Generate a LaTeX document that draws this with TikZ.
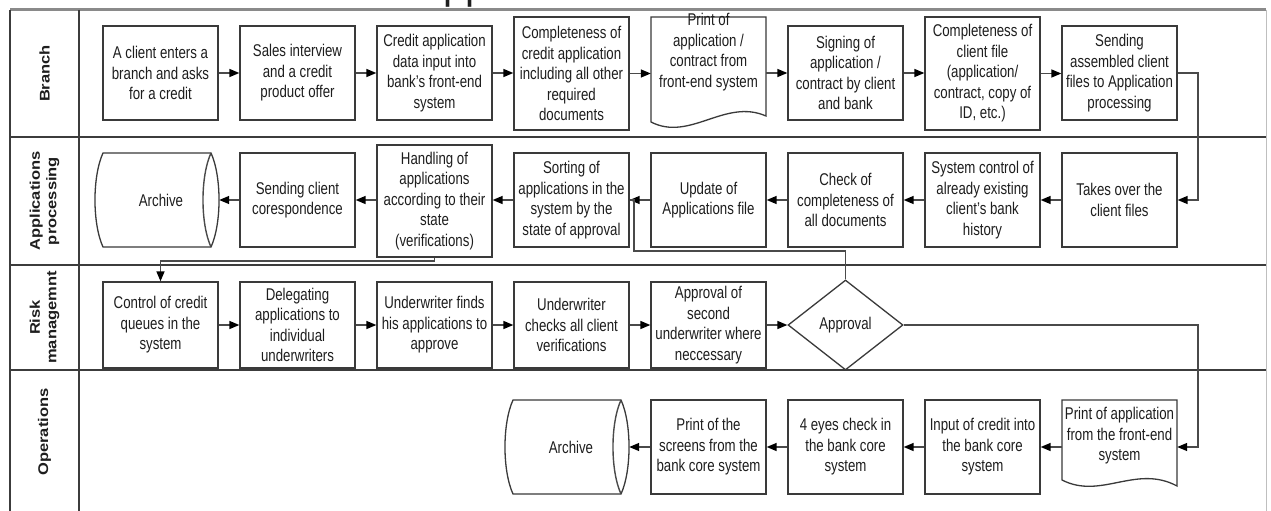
\documentclass[tikz,border=0pt]{standalone}
\usepackage{fontspec}
\setmainfont{Liberation Sans}[FakeStretch=0.78]
\newfontfamily\lanefont{Liberation Sans}
\usetikzlibrary{arrows.meta,shapes.geometric}

\definecolor{txt}{HTML}{1E1E1E}
\definecolor{boxc}{HTML}{3A3A3A}
\definecolor{linec}{HTML}{4A4A4A}
\definecolor{lanec}{HTML}{3C3C3C}
\definecolor{topc}{HTML}{8A8A8A}

\newcommand\boxfont{\fontsize{17}{20.5}\selectfont}

\tikzset{
  box/.style={draw=boxc, line width=1.3pt, fill=white, minimum width=115pt,
    minimum height=94pt, inner sep=0pt, align=center, font=\boxfont, text=txt},
  tallbox/.style={box, minimum height=113pt},
  riskbox/.style={box, minimum height=86pt},
  hold/.style={minimum width=115pt, minimum height=94pt, inner sep=0pt,
    align=center, font=\boxfont, text=txt},
  shapeline/.style={draw=boxc, line width=1.3pt, fill=white},
  arr/.style={draw=linec, line width=1.4pt,
    -{Triangle[length=10pt,width=8pt,color=black]}},
  conn/.style={draw=linec, line width=1.4pt},
  lanelabel/.style={rotate=90, yscale=0.85, align=center, text=txt,
    font=\lanefont\bfseries\fontsize{16.5}{19.5}\selectfont},
  decision/.style={draw=boxc, line width=1.3pt, fill=white, shape=diamond,
    aspect=1.28, minimum width=115pt, minimum height=90pt, inner sep=0pt,
    font=\boxfont, text=txt}
}

\begin{document}
\begin{tikzpicture}[x=1pt,y=-1pt]
\useasboundingbox (0,0) rectangle (1271,511);
\fill[white] (0,0) rectangle (1271,511);

% heading, mostly outside the page
\node (ttl) [anchor=base west, inner sep=0pt, text=txt,
  font=\fontsize{52}{52}\selectfont] at (443,-3) {pp};

% swimlane frame
\draw[topc, line width=3pt] (10,10) -- (1266,10);
\draw[lanec, line width=2.6pt] (10,137) -- (1266,137);
\draw[lanec, line width=2.6pt] (10,265) -- (1266,265);
\draw[lanec, line width=2.6pt] (10,370) -- (1266,370);
\draw[lanec, line width=1.3pt] (10,10) -- (10,511);
\draw[lanec, line width=1.3pt] (79,10) -- (79,511);
\draw[black!25, line width=1pt] (1266,10) -- (1266,511);

% lane titles
\node (lb) [lanelabel] at (44.5,73.5) {Branch};
\node (la) [lanelabel] at (44.5,201) {Applications\\processing};
\node (lr) [lanelabel] at (44.5,317.5) {Risk\\managemnt};
\node (lo) [lanelabel] at (44.5,432) {Operations};

% ---------- Branch ----------
\node (b1) [box] at (160.5,73) {A client enters a\\branch and asks\\for a credit};
\node (b2) [box] at (297.5,73) {Sales interview\\and a credit\\product offer};
\node (b3) [box] at (434.5,73) {Credit application\\data input into\\bank's front-end\\system};
\node (b4) [tallbox] at (571.5,73.5) {Completeness of\\credit application\\including all other\\required\\documents};
\draw[shapeline] (651,17) -- (766,17) -- (766,116)
  .. controls (725,98) and (690,142) .. (651,122) -- cycle;
\node (b5) [hold] at (708.5,73) {};
\node (b5t) [hold, minimum height=0pt] at (708.5,52) {Print of\\application /\\contract from\\front-end system};
\node (b6) [box] at (845.5,73) {Signing of\\application /\\contract by client\\and bank};
\node (b7) [tallbox] at (982.5,73.5) {Completeness of\\client file\\(application/\\contract, copy of\\ID, etc.)};
\node (b8) [box] at (1119.5,73) {Sending\\assembled client\\files to Application\\processing};

% ---------- Applications processing ----------
\draw[shapeline] (103,153) -- (211,153)
  .. controls (221.7,176.5) and (221.7,223.5) .. (211,247) -- (103,247)
  .. controls (92.3,223.5) and (92.3,176.5) .. (103,153) -- cycle;
\draw[conn] (211,153) .. controls (200.3,176.5) and (200.3,223.5) .. (211,247);
\node (a1) [hold, minimum width=116pt] at (161,200) {Archive};
\node (a2) [box] at (297.5,200) {Sending client\\corespondence};
\node (a3) [box, minimum height=112pt] at (434.5,201) {Handling of\\applications\\according to their\\state\\(verifications)};
\node (a4) [box] at (571.5,200) {Sorting of\\applications in the\\system by the\\state of approval};
\node (a5) [box] at (708.5,200) {Update of\\Applications file};
\node (a6) [box] at (845.5,200) {Check of\\completeness of\\all documents};
\node (a7) [box] at (982.5,200) {System control of\\already existing\\client's bank\\history};
\node (a8) [box] at (1119.5,200) {Takes over the\\client files};

% ---------- Risk management ----------
\node (r1) [riskbox] at (160.5,325) {Control of credit\\queues in the\\system};
\node (r2) [riskbox] at (297.5,325) {Delegating\\applications to\\individual\\underwriters};
\node (r3) [riskbox] at (434.5,325) {Underwriter finds\\his applications to\\approve};
\node (r4) [riskbox] at (571.5,325) {Underwriter\\checks all client\\verifications};
\node (r5) [riskbox] at (708.5,325) {Approval of\\second\\underwriter where\\neccessary};
\node (dia) [decision] at (845.5,325) {Approval};

% ---------- Operations ----------
\draw[shapeline] (513,400) -- (621,400)
  .. controls (631.7,423.5) and (631.7,470.5) .. (621,494) -- (513,494)
  .. controls (502.3,470.5) and (502.3,423.5) .. (513,400) -- cycle;
\draw[conn] (621,400) .. controls (610.3,423.5) and (610.3,470.5) .. (621,494);
\node (o1) [hold, minimum width=116pt] at (571,447) {Archive};
\node (o2) [box] at (708.5,447) {Print of the\\screens from the\\bank core system};
\node (o3) [box] at (845.5,447) {4 eyes check in\\the bank core\\system};
\node (o4) [box] at (982.5,447) {Input of credit into\\the bank core\\system};
\draw[shapeline] (1062,400) -- (1177,400) -- (1177,486)
  .. controls (1136,464) and (1101,500) .. (1062,480) -- cycle;
\node (o5) [hold] at (1119.5,447) {};
\node (o5t) [hold, minimum height=0pt] at (1119.5,436) {Print of application\\from the front-end\\system};

% ---------- connectors ----------
\coordinate (jb) at (1198,73);
\coordinate (jd) at (1198,325);
\coordinate (js) at (634,251);
\coordinate (jh) at (434.5,261);

\foreach \s/\t in {b1/b2,b2/b3,b3/b4,b4/b5,b5/b6,b6/b7,b7/b8,
                   r1/r2,r2/r3,r3/r4,r4/r5,r5/dia}
  \draw[arr] (\s.east) -- (\s.east -| \t.west);
\foreach \s/\t in {a8/a7,a7/a6,a6/a5,a5/a4,a2/a1,
                   o5/o4,o4/o3,o3/o2,o2/o1}
  \draw[arr] (\s.west) -- (\s.west -| \t.east);
\draw[arr] (a4.west |- a4.center) -- (a3.east |- a4.center);
\draw[arr] (a3.west |- a2.center) -- (a2.east);

\draw[arr] (b8.east) -- (jb) |- (a8.east);
\draw[conn] (dia.north) |- (js) |- (a4.east);
\draw[arr] (a3.south) -- (jh) -| (r1.north);
\draw[arr] (dia.east) -- (jd) |- (o5.east);
\end{tikzpicture}
\end{document}
